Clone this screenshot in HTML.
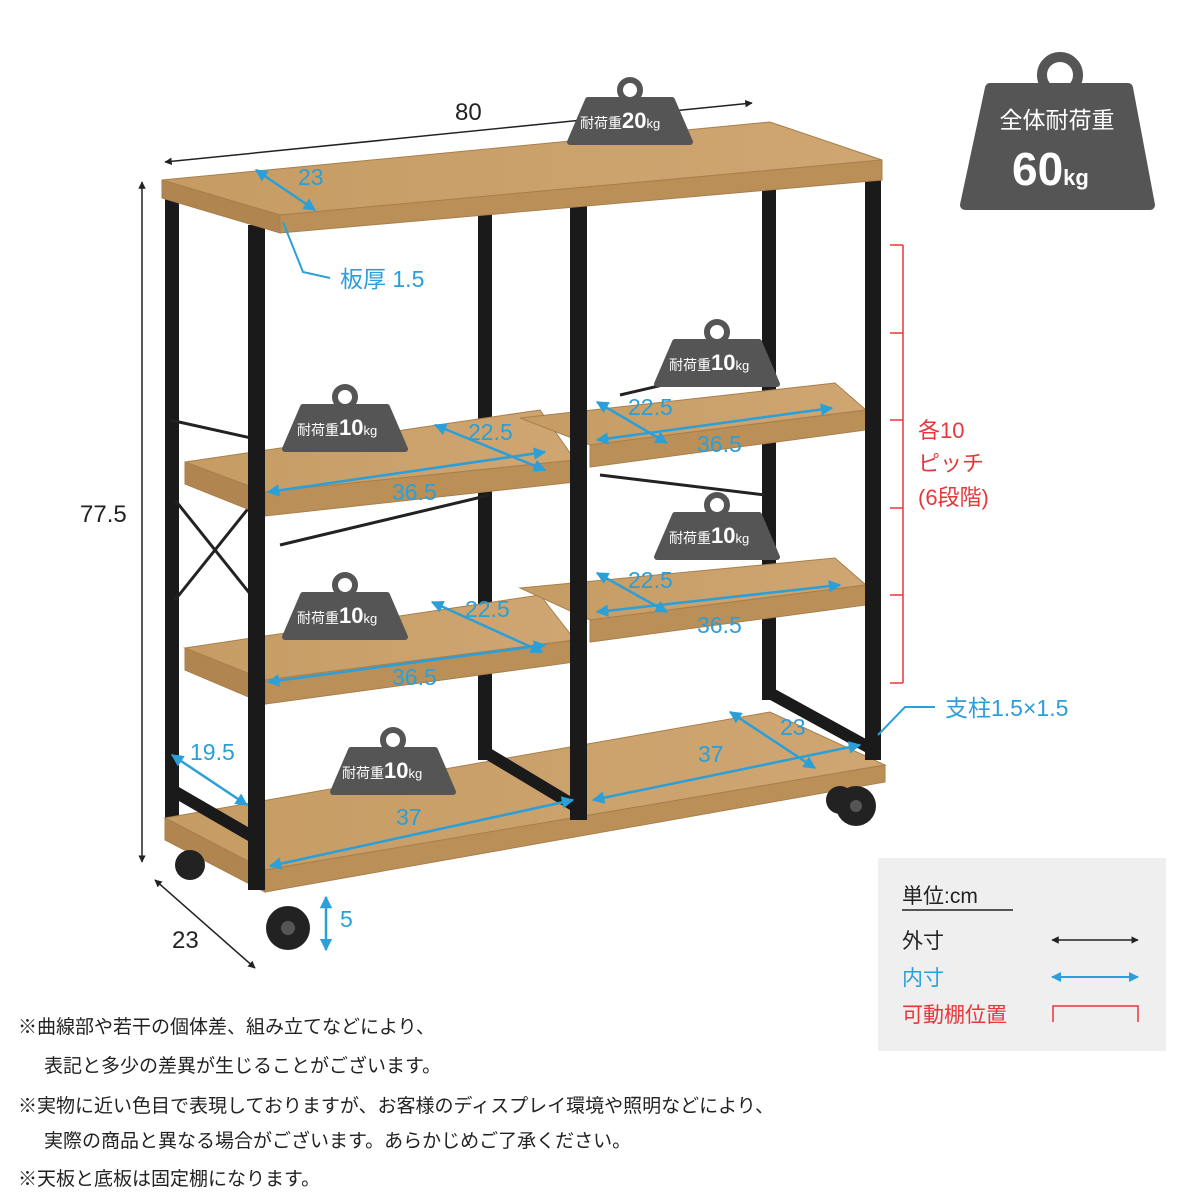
<!DOCTYPE html>
<html><head><meta charset="utf-8"><style>
body{margin:0;background:#fff;}
svg{display:block;font-family:"Liberation Sans","Noto Sans CJK JP",sans-serif;}
</style></head><body>
<svg width="1200" height="1200" viewBox="0 0 1200 1200" xmlns="http://www.w3.org/2000/svg">
<defs>
<marker id="ab" viewBox="0 0 10 10" refX="9" refY="5" markerWidth="5" markerHeight="5" orient="auto-start-reverse"><path d="M0,0L10,5L0,10z" fill="#2a9fd8"/></marker>
<marker id="ak" viewBox="0 0 10 10" refX="9" refY="5" markerWidth="5" markerHeight="5" orient="auto-start-reverse"><path d="M0,0L10,5L0,10z" fill="#222"/></marker>
<linearGradient id="wd" x1="0" y1="0" x2="1" y2="0"><stop offset="0" stop-color="#c69c64"/><stop offset="1" stop-color="#cfa672"/></linearGradient>
<g id="bd">
<circle cx="0" cy="-30" r="10" fill="none" stroke="#555" stroke-width="6"/>
<path d="M-42,-20 L42,-20 L60,22 L-60,22 Z" fill="#555" stroke="#555" stroke-width="6" stroke-linejoin="round"/>
</g>
</defs>

<!-- back posts -->
<rect x="165" y="195" width="14" height="630" fill="#1a1a1a"/>
<rect x="478" y="200" width="14" height="560" fill="#1a1a1a"/>
<rect x="762" y="170" width="14" height="530" fill="#1a1a1a"/>
<!-- braces -->
<g stroke="#222" stroke-width="3">
<line x1="170" y1="420" x2="260" y2="440"/><line x1="175" y1="500" x2="255" y2="600"/><line x1="175" y1="600" x2="255" y2="500"/>
<line x1="490" y1="495" x2="280" y2="545"/><line x1="600" y1="475" x2="765" y2="495"/><line x1="620" y1="395" x2="770" y2="360"/>
</g>

<!-- shelves -->
<g stroke="#a87f4c" stroke-width="1">
<polygon points="185,462 540,410 575,460 265,492" fill="url(#wd)"/>
<polygon points="265,492 575,460 575,482 265,516" fill="#bb9058"/>
<polygon points="185,462 265,492 265,516 185,484" fill="#b08550"/>
<polygon points="520,418 835,383 866,410 590,445" fill="url(#wd)"/>
<polygon points="590,445 866,410 866,430 590,467" fill="#bb9058"/>
<polygon points="185,648 540,595 575,640 265,680" fill="url(#wd)"/>
<polygon points="265,680 575,640 575,662 265,704" fill="#bb9058"/>
<polygon points="185,648 265,680 265,704 185,670" fill="#b08550"/>
<polygon points="520,588 835,558 866,585 590,620" fill="url(#wd)"/>
<polygon points="590,620 866,585 866,605 590,642" fill="#bb9058"/>
<polygon points="165,818 770,712 885,765 265,870" fill="url(#wd)"/>
<polygon points="265,870 885,765 885,782 265,892" fill="#bb9058"/>
<polygon points="165,818 265,870 265,892 165,840" fill="#b08550"/>
</g>
<!-- bottom frame bars -->
<g stroke="#1a1a1a" stroke-width="12">
<line x1="485" y1="752" x2="575" y2="806"/>
<line x1="768" y1="692" x2="870" y2="748"/>
<line x1="172" y1="790" x2="255" y2="838"/>
</g>
<!-- front posts -->
<rect x="248" y="225" width="17" height="665" fill="#1a1a1a"/>
<rect x="570" y="195" width="17" height="625" fill="#1a1a1a"/>
<rect x="865" y="170" width="16" height="590" fill="#1a1a1a"/>
<!-- top -->
<g stroke="#a87f4c" stroke-width="1">
<polygon points="162,180 770,122 882,160 280,215" fill="url(#wd)"/>
<polygon points="280,215 882,160 882,180 280,233" fill="#bb9058"/>
<polygon points="162,180 280,215 280,233 162,198" fill="#b08550"/>
</g>
<!-- casters -->
<g fill="#222"><circle cx="288" cy="928" r="22"/><circle cx="190" cy="865" r="15"/><circle cx="856" cy="806" r="20"/><circle cx="840" cy="800" r="14"/></g>
<g fill="#555"><circle cx="288" cy="928" r="7"/><circle cx="856" cy="806" r="6"/></g>

<!-- black dims -->
<g stroke="#222" stroke-width="1.5" fill="none">
<line x1="165" y1="162" x2="752" y2="103" marker-start="url(#ak)" marker-end="url(#ak)"/>
<line x1="142" y1="182" x2="142" y2="862" marker-start="url(#ak)" marker-end="url(#ak)"/>
<line x1="155" y1="880" x2="255" y2="968" marker-start="url(#ak)" marker-end="url(#ak)"/>
</g>
<g font-size="24" fill="#222"><text x="455" y="120">80</text><text x="80" y="522">77.5</text><text x="172" y="948">23</text></g>

<!-- blue dims -->
<g stroke="#2a9fd8" stroke-width="2.5" fill="none" marker-start="url(#ab)" marker-end="url(#ab)">
<line x1="256" y1="170" x2="315" y2="210"/>
<line x1="435" y1="425" x2="545" y2="470"/>
<line x1="268" y1="492" x2="545" y2="452"/>
<line x1="597" y1="402" x2="667" y2="443"/>
<line x1="597" y1="440" x2="832" y2="408"/>
<line x1="432" y1="602" x2="542" y2="652"/>
<line x1="268" y1="682" x2="545" y2="645"/>
<line x1="597" y1="573" x2="667" y2="612"/>
<line x1="597" y1="612" x2="840" y2="585"/>
<line x1="172" y1="755" x2="247" y2="805"/>
<line x1="270" y1="866" x2="573" y2="800"/>
<line x1="593" y1="800" x2="860" y2="745"/>
<line x1="730" y1="712" x2="815" y2="768"/>
<line x1="326" y1="897" x2="326" y2="950"/>
</g>
<g stroke="#2a9fd8" stroke-width="2" fill="none">
<polyline points="283,222 303,272 330,278"/>
<polyline points="878,735 905,707 935,707"/>
</g>
<g font-size="23" fill="#2a9fd8">
<text x="298" y="185">23</text>
<text x="468" y="440">22.5</text><text x="392" y="500">36.5</text>
<text x="628" y="415">22.5</text><text x="697" y="452">36.5</text>
<text x="465" y="617">22.5</text><text x="392" y="685">36.5</text>
<text x="628" y="588">22.5</text><text x="697" y="633">36.5</text>
<text x="190" y="760">19.5</text><text x="396" y="825">37</text><text x="698" y="762">37</text>
<text x="780" y="735">23</text><text x="340" y="927">5</text>
<text x="340" y="287">板厚 1.5</text>
<text x="945" y="716">支柱1.5×1.5</text>
</g>

<!-- red bracket -->
<g stroke="#e8373a" stroke-width="1.5" fill="none">
<line x1="903" y1="245" x2="903" y2="683"/>
<line x1="890" y1="245" x2="903" y2="245"/><line x1="890" y1="333" x2="903" y2="333"/><line x1="890" y1="420" x2="903" y2="420"/>
<line x1="890" y1="508" x2="903" y2="508"/><line x1="890" y1="595" x2="903" y2="595"/><line x1="890" y1="683" x2="903" y2="683"/>
</g>
<g font-size="22" fill="#e8373a"><text x="918" y="438">各10</text><text x="918" y="471">ピッチ</text><text x="918" y="505">(6段階)</text></g>

<!-- badges -->
<g fill="#fff">
<use href="#bd" x="630" y="120"/><text x="580" y="128" font-size="14">耐荷重<tspan font-size="22" font-weight="bold">20</tspan><tspan font-size="13">kg</tspan></text>
<use href="#bd" x="345" y="427"/><text x="297" y="435" font-size="14">耐荷重<tspan font-size="22" font-weight="bold">10</tspan><tspan font-size="13">kg</tspan></text>
<use href="#bd" x="717" y="362"/><text x="669" y="370" font-size="14">耐荷重<tspan font-size="22" font-weight="bold">10</tspan><tspan font-size="13">kg</tspan></text>
<use href="#bd" x="345" y="615"/><text x="297" y="623" font-size="14">耐荷重<tspan font-size="22" font-weight="bold">10</tspan><tspan font-size="13">kg</tspan></text>
<use href="#bd" x="717" y="535"/><text x="669" y="543" font-size="14">耐荷重<tspan font-size="22" font-weight="bold">10</tspan><tspan font-size="13">kg</tspan></text>
<use href="#bd" x="393" y="770"/><text x="342" y="778" font-size="14">耐荷重<tspan font-size="22" font-weight="bold">10</tspan><tspan font-size="13">kg</tspan></text>
</g>
<!-- big badge -->
<circle cx="1060" cy="75" r="18" fill="none" stroke="#555" stroke-width="10"/>
<path d="M990,88 L1128,88 L1150,205 L965,205 Z" fill="#555" stroke="#555" stroke-width="10" stroke-linejoin="round"/>
<text x="1057" y="128" font-size="23" fill="#fff" text-anchor="middle">全体耐荷重</text>
<text x="1012" y="185" font-size="46" font-weight="bold" fill="#fff">60<tspan font-size="22">kg</tspan></text>

<!-- legend -->
<rect x="878" y="858" width="288" height="193" fill="#efefef"/>
<g font-size="21">
<text x="902" y="903" fill="#222">単位:cm</text>
<line x1="902" y1="910" x2="1013" y2="910" stroke="#222" stroke-width="1.5"/>
<text x="902" y="948" fill="#222">外寸</text>
<text x="902" y="985" fill="#2a9fd8">内寸</text>
<text x="902" y="1022" fill="#e8373a">可動棚位置</text>
</g>
<line x1="1052" y1="940" x2="1138" y2="940" stroke="#222" stroke-width="1.5" marker-start="url(#ak)" marker-end="url(#ak)"/>
<line x1="1052" y1="977" x2="1138" y2="977" stroke="#2a9fd8" stroke-width="2" marker-start="url(#ab)" marker-end="url(#ab)"/>
<polyline points="1053,1022 1053,1006 1138,1006 1138,1022" fill="none" stroke="#e8373a" stroke-width="1.5"/>

<!-- notes -->
<g font-size="19" fill="#222">
<text x="18" y="1033">※曲線部や若干の個体差、組み立てなどにより、</text>
<text x="44" y="1072">表記と多少の差異が生じることがございます。</text>
<text x="18" y="1112">※実物に近い色目で表現しておりますが、お客様のディスプレイ環境や照明などにより、</text>
<text x="44" y="1147">実際の商品と異なる場合がございます。あらかじめご了承ください。</text>
<text x="18" y="1185">※天板と底板は固定棚になります。</text>
</g>
</svg>
</body></html>
